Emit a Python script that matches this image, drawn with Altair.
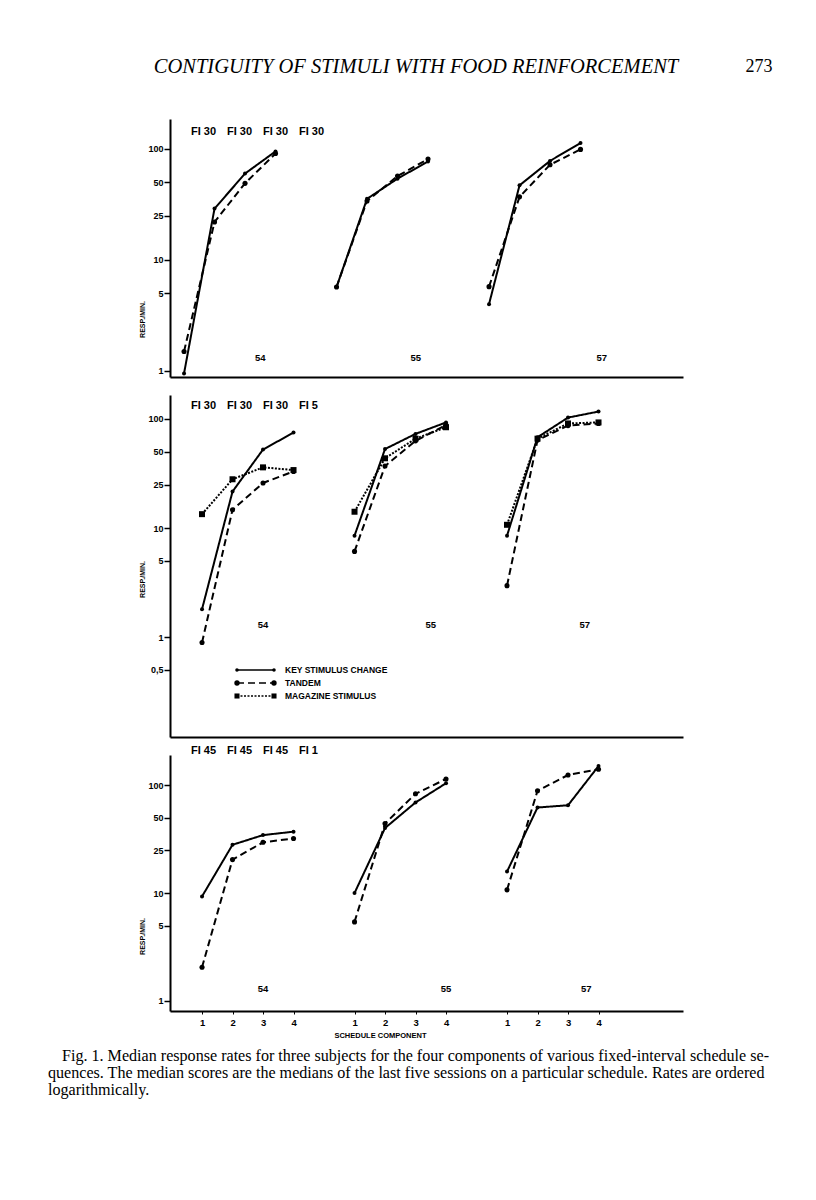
import altair as alt
import pandas as pd

# ---------------- data ----------------
subjects = ["54", "55", "57"]
components = [1, 2, 3, 4]
series_names = ["KEY STIMULUS CHANGE", "TANDEM", "MAGAZINE STIMULUS"]

# Panel 1: FI 30 FI 30 FI 30 FI 30
p1_schedule = ["FI 30", "FI 30", "FI 30", "FI 30"]
p1_key = [[0.95, 29, 60, 95], [5.7, 35.5, 54, 77], [4.0, 47, 78, 113]]
p1_tandem = [[1.5, 22, 49, 91], [5.7, 34, 57, 81], [5.75, 37, 72, 99]]

# Panel 2: FI 30 FI 30 FI 30 FI 5
p2_schedule = ["FI 30", "FI 30", "FI 30", "FI 5"]
p2_key = [[1.8, 21.6, 52.5, 75], [8.5, 53, 73, 93], [8.5, 68, 103, 117]]
p2_tandem = [[0.89, 14.7, 25.9, 33], [6.1, 37, 63, 88], [2.96, 64, 87, 91]]
p2_magazine = [[13.4, 28, 36, 34], [14.1, 43.6, 66, 84], [10.7, 66, 91, 93]]

# Panel 3: FI 45 FI 45 FI 45 FI 1
p3_schedule = ["FI 45", "FI 45", "FI 45", "FI 1"]
p3_key = [[9.3, 28, 34.4, 37], [10, 40, 69, 104], [15.8, 62, 65, 150]]
p3_tandem = [[2.05, 20.4, 29.5, 32], [5.4, 44, 83, 114], [10.7, 88.5, 124, 140]]

y_ticks = [1, 5, 10, 25, 50, 100]
y_ticks_mid = [0.5, 1, 5, 10, 25, 50, 100]
x_ticks = [1, 2, 3, 4, 6, 7, 8, 9, 11, 12, 13, 14]

header = "CONTIGUITY OF STIMULI WITH FOOD REINFORCEMENT"
page_no = "273"
caption = [
    "Fig. 1. Median response rates for three subjects for the four components of various fixed-interval schedule se-",
    "quences. The median scores are the medians of the last five sessions on a particular schedule. Rates are ordered",
    "logarithmically.",
]

# ---------------- styles ----------------
GAP = 5  # component positions: component + GAP * subject index
W = 513
dash_range = [[1, 0], [7, 4], [2, 1.5]]
shape_range = ["circle", "circle", "square"]
size_range = [16, 36, 32]
LBL_FONT = "Liberation Sans"
SERIF = "Liberation Serif"

dash_scale = alt.Scale(domain=series_names, range=dash_range)
shape_scale = alt.Scale(domain=series_names, range=shape_range)
size_scale = alt.Scale(domain=series_names, range=size_range)


def build_df(series_lists):
    rows = []
    for name, vals in series_lists:
        for g, subj in enumerate(subjects):
            for c, v in zip(components, vals[g]):
                rows.append({"series": name, "subject": subj,
                             "pos": c + GAP * g, "rate": v})
    return pd.DataFrame(rows)


def text_layer(txt, x, y, **kw):
    return alt.Chart(pd.DataFrame({"t": [txt]})).mark_text(**kw).encode(
        text="t:N", x=alt.value(x), y=alt.value(y))


def panel(series_lists, schedule, sched_y, xdom, ydom, height, yticks, bottom,
          sub_x, title_y, extra=()):
    df = build_df(series_lists)
    if bottom:
        xaxis = alt.Axis(values=x_ticks, labelExpr="format(((datum.value-1)%5)+1,'d')",
                         title="SCHEDULE COMPONENT", titleX=210, titleY=24,
                         titleAlign="center", titleBaseline="middle",
                         titleFont=LBL_FONT, titleFontSize=7.5, titleFontWeight="bold",
                         labelFont=LBL_FONT, labelFontSize=9.5, labelFontWeight="bold",
                         labelColor="black", tickSize=3, tickColor="black",
                         labelPadding=3, grid=False, domainColor="black", domainWidth=2)
    else:
        xaxis = alt.Axis(labels=False, ticks=False, title=None, grid=False,
                         domainColor="black", domainWidth=2)
    yaxis = alt.Axis(values=yticks,
                     labelExpr="replace(format(datum.value,'~g'),'.',',')",
                     title="RESP./MIN.", titleAngle=270, titleX=-28, titleY=title_y,
                     titleAlign="center", titleBaseline="middle",
                     titleFont=LBL_FONT, titleFontSize=7, titleFontWeight="bold",
                     labelFont=LBL_FONT, labelFontSize=9, labelFontWeight="bold",
                     labelColor="black", tickSize=6, tickColor="black", tickWidth=1.5,
                     labelPadding=1, grid=False, domainColor="black", domainWidth=2)
    x = alt.X("pos:Q", scale=alt.Scale(domain=xdom, nice=False, zero=False), axis=xaxis)
    y = alt.Y("rate:Q", scale=alt.Scale(type="log", domain=ydom, nice=False), axis=yaxis)
    base = alt.Chart(df)
    lines = base.mark_line(color="black", strokeWidth=2).encode(
        x=x, y=y, detail="subject:N",
        strokeDash=alt.StrokeDash("series:N", scale=dash_scale, legend=None))
    points = base.mark_point(filled=True, color="black", opacity=1).encode(
        x=x, y=y,
        shape=alt.Shape("series:N", scale=shape_scale, legend=None),
        size=alt.Size("series:N", scale=size_scale, legend=None))
    sub_df = pd.DataFrame({"t": subjects, "pos": sub_x, "rate": [1.3] * 3})
    subs = alt.Chart(sub_df).mark_text(font=LBL_FONT, fontSize=9.5, fontWeight="bold",
                                       color="black").encode(
        text="t:N", x=alt.X("pos:Q"), y=alt.Y("rate:Q"))
    layers = [lines, points, subs]
    for i, s in enumerate(schedule):
        layers.append(text_layer(s, 21 + 36 * i, sched_y,
                                 align="left", baseline="middle", font=LBL_FONT,
                                 fontSize=11, fontWeight="bold", color="black"))
    layers.extend(extra)
    return alt.layer(*layers).properties(width=W, height=height)


# header / page number (panel 1)
p1_extra = [
    text_layer(header, 246, -52, font=SERIF, fontSize=20.5, fontStyle="italic",
               align="center", baseline="middle", color="black"),
    text_layer(page_no, 589, -52, font=SERIF, fontSize=18,
               align="center", baseline="middle", color="black"),
]

# legend (panel 2)
p2_extra = []
for i, name in enumerate(series_names):
    ly = 275 + 13 * i
    p2_extra.append(alt.Chart(pd.DataFrame({"s": [name]})).mark_rule(
        color="black", strokeWidth=1.6, strokeDash=dash_range[i]).encode(
        x=alt.value(67), x2=alt.value(104), y=alt.value(ly)))
    for px in (67, 104):
        p2_extra.append(alt.Chart(pd.DataFrame({"s": [name]})).mark_point(
            filled=True, color="black", opacity=1, shape=shape_range[i],
            size=size_range[i] * 0.8).encode(x=alt.value(px), y=alt.value(ly)))
    p2_extra.append(text_layer(name, 115, ly, align="left", baseline="middle",
                               font=LBL_FONT, fontSize=8.5, fontWeight="bold",
                               color="black"))

# caption (panel 3)
cap_kw = dict(font=SERIF, fontSize=16.1, align="left", baseline="middle", color="black")
p3_extra = [
    text_layer(caption[0], -108, 301, **cap_kw),
    text_layer(caption[1], -122, 318, **cap_kw),
    text_layer(caption[2], -122, 335, **cap_kw),
]

panel1 = panel([(series_names[0], p1_key), (series_names[1], p1_tandem)],
               p1_schedule, 13, [0.54, 17.36], [0.883, 186], 258, y_ticks, False,
               [3.5, 8.6, 14.7], 200, p1_extra)
panel2 = panel([(series_names[0], p2_key), (series_names[1], p2_tandem),
                (series_names[2], p2_magazine)],
               p2_schedule, 11, [-0.05, 16.77], [0.121, 166], 342, y_ticks_mid, False,
               [3.0, 8.5, 13.55], 184, p2_extra)
panel3 = panel([(series_names[0], p3_key), (series_names[1], p3_tandem)],
               p3_schedule, -4, [-0.05, 16.77], [0.807, 190], 256, y_ticks, True,
               [3.0, 9.0, 13.6], 181, p3_extra)

chart = alt.vconcat(panel1, panel2, panel3, spacing=18, bounds="flush").resolve_scale(
    x="independent", y="independent"
).properties(
    padding={"left": 40, "top": 49, "right": 5, "bottom": 5},
    background="white",
).configure_view(stroke=None)

chart.save("out.html", embed_options={"renderer": "svg", "actions": False})
